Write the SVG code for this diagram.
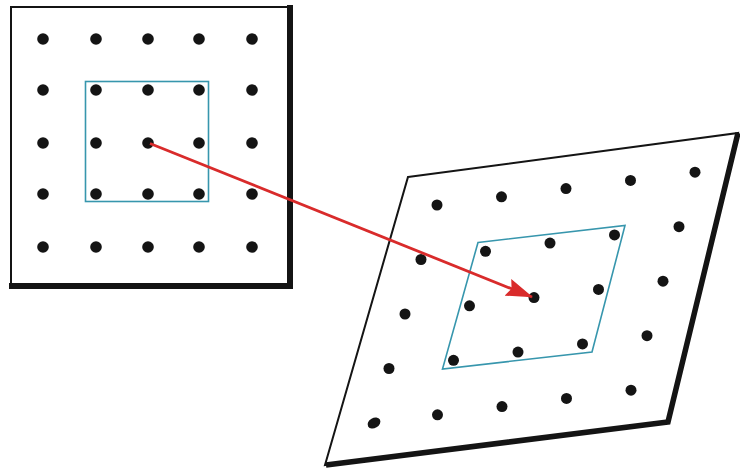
<svg xmlns="http://www.w3.org/2000/svg" width="740" height="472" viewBox="0 0 740 472">
<style>
.d{fill:#141414}
.frame{fill:#fff;stroke:#141414;stroke-width:2}
.thick{stroke:#141414;fill:none;stroke-linecap:square}
.win{fill:none;stroke:#3796ad;stroke-width:1.6}
.arrow{stroke:#d92b2b;stroke-width:2.8;fill:none}
</style>
<defs>
<marker id="ah" markerUnits="userSpaceOnUse" viewBox="0 0 27 18" markerWidth="27" markerHeight="18" refX="26" refY="9" orient="auto">
<path d="M0,0 L27,9 L0,18 L4,9 z" fill="#d92b2b"/>
</marker>
</defs>
<rect width="740" height="472" fill="#fff"/>
<g id="source-grid">
<rect class="frame" x="11" y="7" width="279" height="279"/>
<line class="thick" x1="290" y1="8" x2="290" y2="286" stroke-width="6"/>
<line class="thick" x1="12" y1="286" x2="290" y2="286" stroke-width="6"/>
<rect class="win" x="85.5" y="81.5" width="123" height="120"/>
<g>
<circle class="d" cx="43" cy="39" r="5.8"/><circle class="d" cx="96" cy="39" r="5.8"/><circle class="d" cx="148" cy="39" r="5.8"/><circle class="d" cx="199" cy="39" r="5.8"/><circle class="d" cx="252" cy="39" r="5.8"/>
<circle class="d" cx="43" cy="90" r="5.8"/><circle class="d" cx="96" cy="90" r="5.8"/><circle class="d" cx="148" cy="90" r="5.8"/><circle class="d" cx="199" cy="90" r="5.8"/><circle class="d" cx="252" cy="90" r="5.8"/>
<circle class="d" cx="43" cy="143" r="5.8"/><circle class="d" cx="96" cy="143" r="5.8"/><circle class="d" cx="148" cy="143" r="5.8"/><circle class="d" cx="199" cy="143" r="5.8"/><circle class="d" cx="252" cy="143" r="5.8"/>
<circle class="d" cx="43" cy="194" r="5.8"/><circle class="d" cx="96" cy="194" r="5.8"/><circle class="d" cx="148" cy="194" r="5.8"/><circle class="d" cx="199" cy="194" r="5.8"/><circle class="d" cx="252" cy="194" r="5.8"/>
<circle class="d" cx="43" cy="247" r="5.8"/><circle class="d" cx="96" cy="247" r="5.8"/><circle class="d" cx="148" cy="247" r="5.8"/><circle class="d" cx="199" cy="247" r="5.8"/><circle class="d" cx="252" cy="247" r="5.8"/>
</g>
</g>
<g id="warped-grid">
<polygon class="frame" points="408,177 738,133 668,422 325,465"/>
<polyline points="738,133 668,422 326,465" stroke="#141414" fill="none" stroke-width="5.5" stroke-linejoin="miter" stroke-linecap="butt"/>
<polygon class="win" points="478,242.5 625,225.5 592,352 442.5,369"/>
<g>
<circle class="d" cx="437" cy="205" r="5.5"/><circle class="d" cx="501.5" cy="196.8" r="5.5"/><circle class="d" cx="566" cy="188.6" r="5.5"/><circle class="d" cx="630.5" cy="180.4" r="5.5"/><circle class="d" cx="695" cy="172.2" r="5.5"/>
<circle class="d" cx="421" cy="259.5" r="5.5"/><circle class="d" cx="485.5" cy="251.3" r="5.5"/><circle class="d" cx="550" cy="243.1" r="5.5"/><circle class="d" cx="614.5" cy="234.9" r="5.5"/><circle class="d" cx="679" cy="226.7" r="5.5"/>
<circle class="d" cx="405" cy="314" r="5.5"/><circle class="d" cx="469.5" cy="305.8" r="5.5"/><circle class="d" cx="534" cy="297.6" r="5.5"/><circle class="d" cx="598.5" cy="289.4" r="5.5"/><circle class="d" cx="663" cy="281.2" r="5.5"/>
<circle class="d" cx="389" cy="368.5" r="5.5"/><circle class="d" cx="453.5" cy="360.3" r="5.5"/><circle class="d" cx="518" cy="352.1" r="5.5"/><circle class="d" cx="582.5" cy="343.9" r="5.5"/><circle class="d" cx="647" cy="335.7" r="5.5"/>
<ellipse class="d" cx="374" cy="423" rx="6.8" ry="5" transform="rotate(-30 374 423)"/><circle class="d" cx="437.5" cy="414.8" r="5.5"/><circle class="d" cx="502" cy="406.6" r="5.5"/><circle class="d" cx="566.5" cy="398.4" r="5.5"/><circle class="d" cx="631" cy="390.2" r="5.5"/>
</g>
</g>
<g id="connectors">
<line class="arrow" x1="150" y1="143.5" x2="532" y2="297" marker-end="url(#ah)"/>
</g>
</svg>
